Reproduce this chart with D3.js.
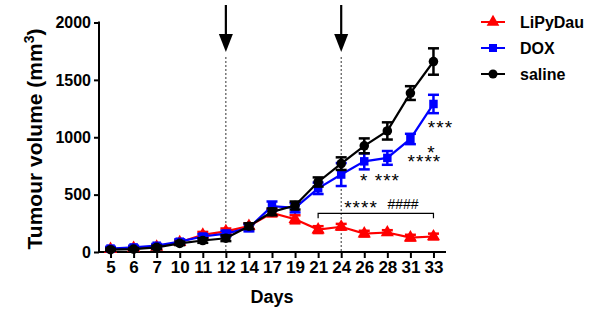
<!DOCTYPE html>
<html>
<head>
<meta charset="utf-8">
<script src="https://cdn.jsdelivr.net/npm/d3@7"></script>
<style>
  body { margin: 0; background: #fff; }
  svg { font-family: "Liberation Sans", Arial, sans-serif; }
</style>
</head>
<body>
<svg id="chart" width="600" height="325"></svg>
<script>
// data (mean and error per day)
const days = [5, 6, 7, 10, 11, 12, 14, 17, 19, 21, 24, 26, 28, 31, 33];
const lipydau = [25, 35, 45, 85, 150, 180, 225, 340, 285, 195, 220, 160, 170, 125, 135];
const lipydauErr = [15, 15, 15, 20, 25, 25, 25, 30, 35, 30, 25, 25, 20, 25, 25];
const dox = [30, 40, 55, 90, 135, 160, 210, 400, 385, 555, 675, 790, 820, 985, 1290];
const doxErr = [15, 15, 15, 20, 20, 25, 30, 40, 40, 50, 100, 70, 60, 45, 80];
const saline = [20, 25, 40, 75, 100, 120, 225, 350, 405, 610, 770, 925, 1055, 1385, 1660];
const salineErr = [10, 10, 15, 15, 20, 25, 25, 30, 35, 40, 55, 65, 75, 60, 115];
const yTicks = [0, 500, 1000, 1500, 2000];
const doseDays = [12, 24];
// significance marks: day, value level, label
const stars = [
  { day: 26, v: 660, text: "*" },
  { day: 28, v: 660, text: "***" },
  { day: 31, v: 825, text: "****", dx: 14 },
  { day: 33, v: 905, text: "*", dx: -2 },
  { day: 33, v: 1125, text: "***", dx: 7 }
];
const bracket = { from: 21, to: 33, v: 337 };

const svg = d3.select("#chart");

const x = d3.scalePoint().domain(days).range([99, 445]).padding(0.5);
const y = d3.scaleLinear().domain([0, 2000]).range([252, 22.5]);

// axes
const xAxis = svg.append("g")
  .attr("transform", "translate(0,252)")
  .call(d3.axisBottom(x).tickSize(6).tickPadding(3));
const yAxis = svg.append("g")
  .attr("transform", "translate(99,0)")
  .call(d3.axisLeft(y).tickValues(yTicks).tickFormat(d3.format("d")).tickSize(5).tickPadding(3));

[xAxis, yAxis].forEach(a => {
  a.selectAll("path, line").attr("stroke", "#000").attr("stroke-width", 2);
  a.select("path.domain").attr("stroke-linecap", "square");
  a.selectAll("text").attr("fill", "#000").attr("font-weight", "bold");
});
xAxis.selectAll("text").attr("font-size", 17);
yAxis.selectAll("text").attr("font-size", 16);
// axis lines without outer ticks
xAxis.select("path.domain").attr("d", "M99,0H445");
yAxis.select("path.domain").attr("d", "M0,252V22.5");

svg.append("text")
  .attr("x", 272).attr("y", 303)
  .attr("text-anchor", "middle")
  .attr("font-size", 18).attr("font-weight", "bold")
  .text("Days");

const yl = svg.append("text")
  .attr("transform", "translate(42,139) rotate(-90)")
  .attr("text-anchor", "middle")
  .attr("font-size", 21).attr("font-weight", "bold");
yl.append("tspan").text("Tumour volume (mm");
yl.append("tspan").attr("font-size", 14).attr("dy", -8).text("3");
yl.append("tspan").attr("dy", 8).text(")");

// dose arrows and dashed lines
doseDays.forEach(d => {
  const cx = x(d);
  svg.append("line")
    .attr("x1", cx).attr("x2", cx).attr("y1", 57).attr("y2", 252)
    .attr("stroke", "#333").attr("stroke-width", 1).attr("stroke-dasharray", "2,2");
  svg.append("line")
    .attr("x1", cx).attr("x2", cx).attr("y1", 5).attr("y2", 36)
    .attr("stroke", "#000").attr("stroke-width", 2.2);
  svg.append("path")
    .attr("d", `M${cx - 7},34L${cx + 7},34L${cx},52Z`)
    .attr("fill", "#000");
});

// series
const series = [
  { name: "LiPyDau", vals: lipydau, err: lipydauErr, color: "#ff0000", sym: d3.symbolTriangle },
  { name: "DOX", vals: dox, err: doxErr, color: "#0000ff", sym: d3.symbolSquare },
  { name: "saline", vals: saline, err: salineErr, color: "#000000", sym: d3.symbolCircle }
];

const line = d3.line().x(d => x(d.day)).y(d => y(d.v));

series.forEach(s => {
  const pts = days.map((d, i) => ({ day: d, v: s.vals[i], e: s.err[i] }));
  const g = svg.append("g");
  g.append("path")
    .datum(pts)
    .attr("d", line)
    .attr("fill", "none")
    .attr("stroke", s.color)
    .attr("stroke-width", 2.2);
  const eb = g.selectAll(".eb").data(pts).join("g");
  eb.append("line")
    .attr("x1", d => x(d.day)).attr("x2", d => x(d.day))
    .attr("y1", d => y(d.v - d.e)).attr("y2", d => y(d.v + d.e))
    .attr("stroke", s.color).attr("stroke-width", 2.5);
  [-1, 1].forEach(sg => {
    eb.append("line")
      .attr("x1", d => x(d.day) - 5.5).attr("x2", d => x(d.day) + 5.5)
      .attr("y1", d => y(d.v + sg * d.e)).attr("y2", d => y(d.v + sg * d.e))
      .attr("stroke", s.color).attr("stroke-width", 2.5);
  });
  g.selectAll(".pt").data(pts).join("path")
    .attr("transform", d => `translate(${x(d.day)},${y(d.v)})`)
    .attr("d", d3.symbol(s.sym, s.sym === d3.symbolTriangle ? 75 : 72))
    .attr("fill", s.color);
});

// stats annotations
stars.forEach(st => {
  svg.append("text")
    .attr("x", x(st.day) + (st.dx || 0)).attr("y", y(st.v) + 11)
    .attr("text-anchor", "middle")
    .attr("font-size", 19).attr("letter-spacing", 1)
    .attr("fill", "#000")
    .text(st.text);
});

const bx1 = x(bracket.from), bx2 = x(bracket.to), by = y(bracket.v);
svg.append("path")
  .attr("d", `M${bx1},${by + 5}V${by}H${bx2}V${by + 5}`)
  .attr("fill", "none").attr("stroke", "#000").attr("stroke-width", 1.2);
svg.append("text")
  .attr("x", 361).attr("y", by + 1)
  .attr("text-anchor", "middle").attr("font-size", 19).attr("letter-spacing", 1)
  .text("****");
svg.append("text")
  .attr("x", 403).attr("y", by - 4)
  .attr("text-anchor", "middle").attr("font-size", 14)
  .text("####");

// legend
const leg = svg.append("g").selectAll("g").data(series).join("g")
  .attr("transform", (d, i) => `translate(481,${22 + i * 26})`);
leg.append("line")
  .attr("x1", 0).attr("x2", 24)
  .attr("stroke", d => d.color).attr("stroke-width", 2);
leg.append("path")
  .attr("transform", "translate(12,0)")
  .attr("d", d => d3.symbol(d.sym, d.sym === d3.symbolTriangle ? 70 : 64)())
  .attr("fill", d => d.color);
leg.append("text")
  .attr("x", 39).attr("y", 6)
  .attr("font-size", 16).attr("font-weight", "bold")
  .text(d => d.name);
</script>
</body>
</html>
